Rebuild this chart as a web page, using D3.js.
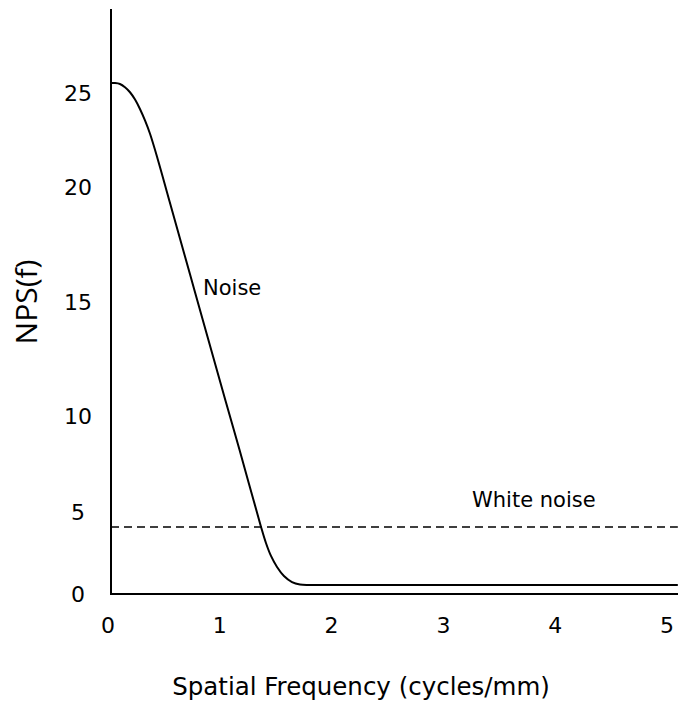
<!DOCTYPE html>
<html>
<head>
<meta charset="utf-8">
<script src="https://cdn.jsdelivr.net/npm/d3@7"></script>
<style>
  html, body { margin: 0; padding: 0; background: #fff; }
  svg { display: block; }
  text { fill: #000; }
</style>
</head>
<body>
<svg id="chart" width="678" height="715"></svg>
<script>
// Noise power spectrum, NPS(f), against spatial frequency
const freq = [0, 0.036, 0.08, 0.125, 0.17, 0.215, 0.259, 0.304, 0.349, 0.42, 0.524, 0.742, 1.025, 1.15, 1.342, 1.386, 1.431, 1.485, 1.547, 1.619, 1.69, 1.78, 2.5, 3.5, 5.07];
const nps  = [25.53, 25.53, 25.48, 25.31, 25.04, 24.65, 24.15, 23.54, 22.83, 21.44, 19.37, 15.59, 10.66, 8.23, 4.09, 3.11, 2.32, 1.65, 1.1, 0.73, 0.58, 0.55, 0.55, 0.55, 0.55];
const whiteNoiseLevel = 4.09;
const whiteNoiseSpan = [0, 5.07];
const xTicks = [0, 1, 2, 3, 4, 5];
const yTicks = [0, 5, 10, 15, 20, 25];

const font = "'DejaVu Sans', sans-serif";
const svg = d3.select("#chart");

const x = d3.scaleLinear().domain([0, 5]).range([111, 670]);
// piecewise vertical scale, one segment per labelled interval
const y = d3.scaleLinear().domain(yTicks).range([594, 512, 416, 302, 187, 93]);

// axes
svg.append("line")
  .attr("x1", x(0)).attr("x2", x(0))
  .attr("y1", 9).attr("y2", y(0))
  .attr("stroke", "#000").attr("stroke-width", 2);
svg.append("line")
  .attr("x1", x(0) - 1).attr("x2", 678)
  .attr("y1", y(0)).attr("y2", y(0))
  .attr("stroke", "#000").attr("stroke-width", 2);

// tick labels
svg.append("g").selectAll("text").data(yTicks).join("text")
  .attr("x", 78).attr("y", d => y(d))
  .attr("dy", "0.36em")
  .attr("text-anchor", "middle")
  .attr("font-family", font).attr("font-size", 22)
  .text(d => d);

svg.append("g").selectAll("text").data(xTicks).join("text")
  .attr("x", d => x(d) - 3).attr("y", 633)
  .attr("text-anchor", "middle")
  .attr("font-family", font).attr("font-size", 22)
  .text(d => d);

// white noise level
svg.append("line")
  .attr("x1", x(whiteNoiseSpan[0])).attr("x2", x(whiteNoiseSpan[1]))
  .attr("y1", y(whiteNoiseLevel)).attr("y2", y(whiteNoiseLevel))
  .attr("stroke", "#000").attr("stroke-width", 1.5)
  .attr("stroke-dasharray", "8,5");

// noise spectrum
const pts = freq.map((f, i) => [f, nps[i]]);
svg.append("path")
  .datum(pts)
  .attr("fill", "none").attr("stroke", "#000").attr("stroke-width", 2)
  .attr("d", d3.line().x(d => x(d[0])).y(d => y(d[1])).curve(d3.curveCatmullRom.alpha(0.5)));

// curve labels
svg.append("text")
  .attr("x", 203).attr("y", 295)
  .attr("font-family", font).attr("font-size", 21)
  .text("Noise");
svg.append("text")
  .attr("x", 472).attr("y", 507)
  .attr("font-family", font).attr("font-size", 21)
  .text("White noise");

// axis titles
svg.append("text")
  .attr("x", 361).attr("y", 695)
  .attr("text-anchor", "middle")
  .attr("font-family", font).attr("font-size", 24.5)
  .text("Spatial Frequency (cycles/mm)");
svg.append("text")
  .attr("transform", "translate(37,302) rotate(-90)")
  .attr("text-anchor", "middle")
  .attr("font-family", "'Open Sans', sans-serif").attr("font-size", 30)
  .text("NPS(f)");
</script>
</body>
</html>
